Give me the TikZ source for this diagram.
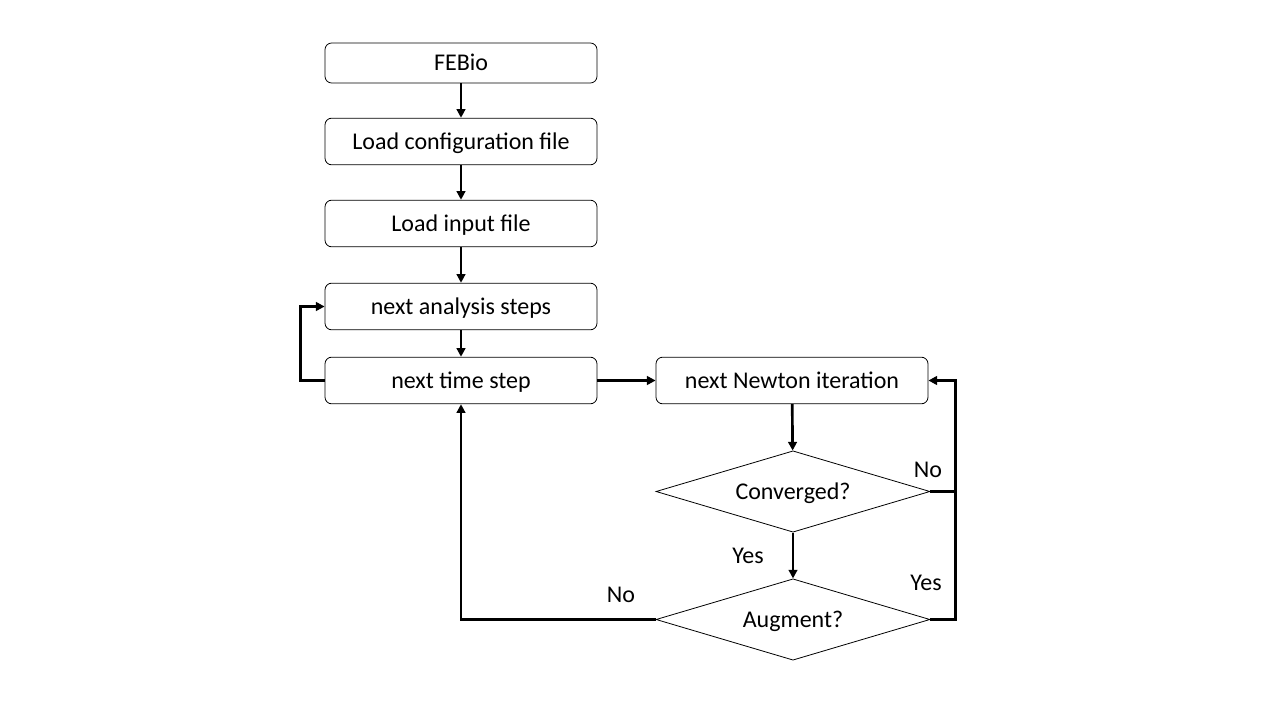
\documentclass[tikz,border=0pt]{standalone}
\usepackage{fontspec}
\setmainfont{Carlito}
\usetikzlibrary{shapes.geometric,arrows.meta,calc}

\tikzset{
	stepbox/.style={draw, rounded corners=5pt, line width=0.6pt,
		minimum width=204pt, minimum height=35pt, inner sep=0pt,
		text height=14pt, text depth=2pt,
		font=\fontsize{18}{22}\selectfont},
	question/.style={draw, diamond, aspect=2.25, line width=0.6pt, inner sep=0pt,
		minimum width=205.5pt, minimum height=61pt, text height=14pt, text depth=2pt,
		font=\fontsize{18}{22}\selectfont},
	flow/.style={line width=2pt, -{Triangle[length=6.5pt,width=6.5pt]}},
	tag/.style={font=\fontsize{18}{22}\selectfont, text height=14pt, text depth=2pt}
}

\begin{document}
\begin{tikzpicture}[x=0.75pt, y=-0.75pt]

	\def\xL{461}
	\def\xR{793}
	
	\useasboundingbox (0,0) rectangle (1280,720);
	
	% left column
	\node[stepbox, minimum height=30pt] (febio) at (\xL, 63) {FEBio};
	\node[stepbox] (config) at (\xL, 141.5) {Load configuration file};
	\node[stepbox] (input) at (\xL, 223.5) {Load input file};
	\node[stepbox] (analysis) at (\xL, 306.5) {next analysis steps};
	\node[stepbox] (timestep) at (\xL, 380.5) {next time step};
	
	% right column
	\node[stepbox] (newton) at (\xR-1, 380.5) {next Newton iteration};
	\node[question] (converged) at (\xR, 491.5) {Converged?};
	\node[question] (augment) at (\xR, 619.5) {Augment?};
	
	\coordinate (rail) at ($(converged.east)+(25,0)$);
	
	\draw[flow] (febio) -- (config);
	\draw[flow] (config) -- (input);
	\draw[flow] (input) -- (analysis);
	\draw[flow] (analysis) -- (timestep);
	\draw[flow] (timestep.west) -- ++(-24,0) |- (analysis.west);
	\draw[flow] (timestep) -- (newton);
	\draw[flow] (newton) -- (converged);
	\draw[flow] (converged) -- (augment);
	\draw[flow] (converged.east) -- (rail) |- (newton.east);
	\draw[line width=2pt] (augment.east) -| (rail);
	\draw[flow] (augment.west) -| (timestep.south);
	
	% labels
	\node[tag] (noconv) at (928, 469) {No};
	\node[tag] (yesconv) at (748, 555) {Yes};
	\node[tag] (yesaug) at (926, 582) {Yes};
	\node[tag] (noaug) at (621, 594) {No};

\end{tikzpicture}
\end{document}
